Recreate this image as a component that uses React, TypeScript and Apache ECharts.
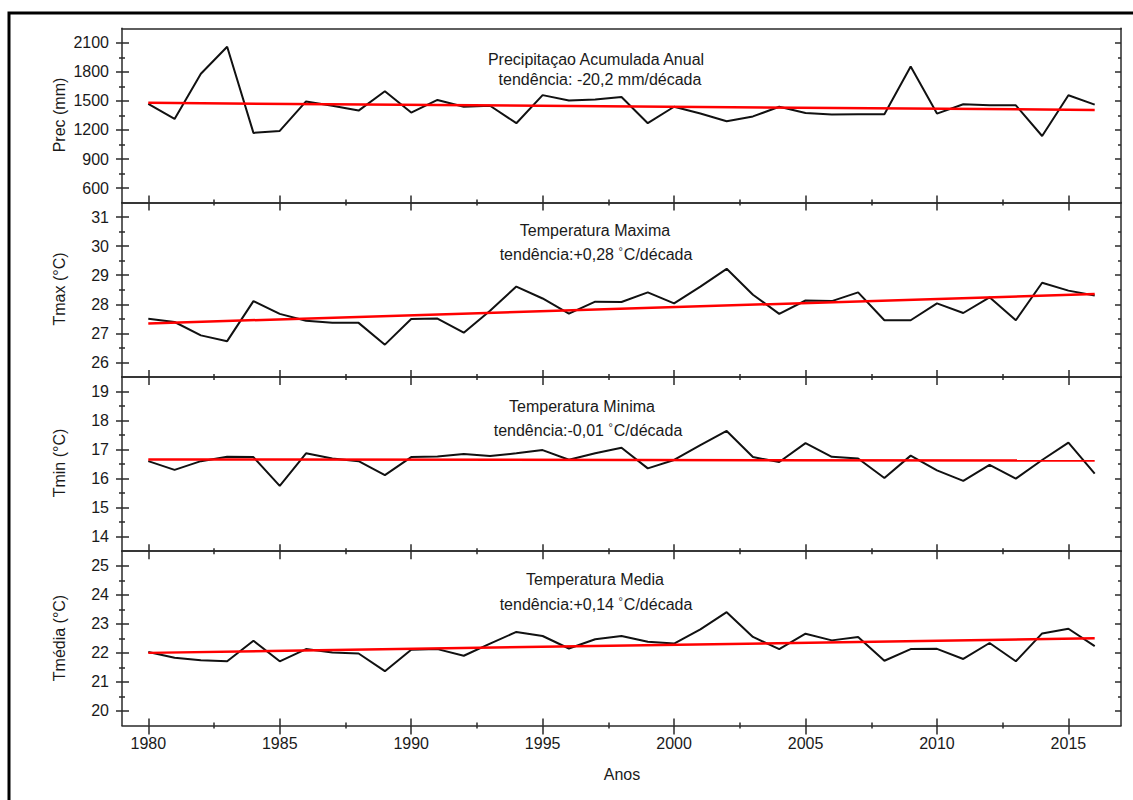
import React, { useEffect, useRef } from "react";
import * as echarts from "echarts";

// ---------------- DATA ----------------
const years = [
  1980, 1981, 1982, 1983, 1984, 1985, 1986, 1987, 1988, 1989,
  1990, 1991, 1992, 1993, 1994, 1995, 1996, 1997, 1998, 1999,
  2000, 2001, 2002, 2003, 2004, 2005, 2006, 2007, 2008, 2009,
  2010, 2011, 2012, 2013, 2014, 2015, 2016,
];

const precValues = [
  1470, 1314, 1780, 2060, 1170, 1190, 1495, 1450, 1400, 1600,
  1380, 1510, 1440, 1450, 1270, 1560, 1505, 1515, 1540, 1270,
  1440, 1370, 1290, 1340, 1440, 1376, 1360, 1362, 1362, 1855,
  1369, 1466, 1455, 1455, 1138, 1559, 1462,
];
const tmaxValues = [
  27.5, 27.39, 26.93, 26.73, 28.11, 27.67, 27.43, 27.36, 27.36, 26.61,
  27.49, 27.51, 27.02, 27.78, 28.61, 28.2, 27.68, 28.09, 28.08, 28.41,
  28.03, 28.61, 29.22, 28.33, 27.67, 28.13, 28.11, 28.41, 27.45, 27.45,
  28.03, 27.7, 28.24, 27.45, 28.74, 28.47, 28.3,
];
const tminValues = [
  16.6, 16.3, 16.6, 16.75, 16.74, 15.75, 16.87, 16.69, 16.6, 16.12,
  16.74, 16.76, 16.85, 16.78, 16.87, 16.98, 16.65, 16.87, 17.06, 16.35,
  16.64, 17.15, 17.64, 16.74, 16.57, 17.22, 16.75, 16.69, 16.02, 16.79,
  16.28, 15.92, 16.47, 16.0, 16.64, 17.24, 16.17,
];
const tmediaValues = [
  22.03, 21.83, 21.75, 21.71, 22.42, 21.71, 22.13, 22.01, 21.98, 21.37,
  22.11, 22.13, 21.9, 22.32, 22.72, 22.58, 22.15, 22.47, 22.58, 22.38,
  22.32, 22.81, 23.4, 22.55, 22.13, 22.66, 22.43, 22.55, 21.73, 22.13,
  22.14, 21.79, 22.34, 21.71, 22.67, 22.83, 22.23,
];

// trend line values at first and last year
const precTrend = [1480, 1407];
const tmaxTrend = [27.34, 28.35];
const tminTrend = [16.66, 16.62];
const tmediaTrend = [22.0, 22.5];

const xMajorTicks = [1980, 1985, 1990, 1995, 2000, 2005, 2010, 2015];
const xMinorTicks = [1982.5, 1987.5, 1992.5, 1997.5, 2002.5, 2007.5, 2012.5];

const precMajorTicks = [600, 900, 1200, 1500, 1800, 2100];
const precMinorTicks = [750, 1050, 1350, 1650, 1950];
const tmaxMajorTicks = [26, 27, 28, 29, 30, 31];
const tmaxMinorTicks = [26.5, 27.5, 28.5, 29.5, 30.5];
const tminMajorTicks = [14, 15, 16, 17, 18, 19];
const tminMinorTicks = [14.5, 15.5, 16.5, 17.5, 18.5];
const tmediaMajorTicks = [20, 21, 22, 23, 24, 25];
const tmediaMinorTicks = [20.5, 21.5, 22.5, 23.5, 24.5];

const axisNames = ["Prec (mm)", "Tmax (°C)", "Tmin (°C)", "Tmédia (°C)"];
const titleMain = [
  "Precipitaçao Acumulada Anual",
  "Temperatura Maxima",
  "Temperatura Minima",
  "Temperatura Media",
];
// trend text split around the degree sign: [before, unit-after-degree or null]
const trendTexts: [string, string | null][] = [
  ["tendência: -20,2 mm/década", null],
  ["tendência:+0,28 ", "C/década"],
  ["tendência:-0,01 ", "C/década"],
  ["tendência:+0,14 ", "C/década"],
];
const xAxisName = "Anos";

// ---------------- LAYOUT / STYLE ----------------
const X_MIN = 1979;
const X_MAX = 2017;
const LEFT = 122;
const PLOT_W = 999;
const TOP = 28.3;
const PANEL_H = 174.3;
const FONT = '"Liberation Sans", Arial, Helvetica, sans-serif';
const AXIS_COLOR = "#2a2a2a";
const TEXT_COLOR = "#1a1a1a";

const panels = [
  { values: precValues, trend: precTrend, min: 450, max: 2250, majors: precMajorTicks, minors: precMinorTicks },
  { values: tmaxValues, trend: tmaxTrend, min: 25.5, max: 31.5, majors: tmaxMajorTicks, minors: tmaxMinorTicks },
  { values: tminValues, trend: tminTrend, min: 13.5, max: 19.5, majors: tminMajorTicks, minors: tminMinorTicks },
  { values: tmediaValues, trend: tmediaTrend, min: 19.5, max: 25.5, majors: tmediaMajorTicks, minors: tmediaMinorTicks },
];

const titlePos = [
  [[596, 59], [600, 79]],
  [[595, 230], [596, 254]],
  [[582, 406], [588, 430]],
  [[595, 579], [596, 604]],
];
const namePos = [
  [59, 115],
  [59, 289],
  [59, 463],
  [59, 638],
];

const lineStyle = { color: AXIS_COLOR, width: 1.5 };

function tickAxis(gridIndex: number, position: string, min: number, max: number, values: number[], length: number, inside: boolean, showLine = false) {
  return {
    type: "value",
    gridIndex,
    position,
    min,
    max,
    axisLine: { show: showLine, onZero: false, lineStyle },
    axisTick: { show: true, inside, length, customValues: values, lineStyle },
    axisLabel: { show: false },
    splitLine: { show: false },
  };
}

function buildOption() {
  const grids: any[] = [];
  const xAxes: any[] = [];
  const yAxes: any[] = [];
  const series: any[] = [];

  panels.forEach((p, i) => {
    const isLast = i === panels.length - 1;
    grids.push({ left: LEFT, top: TOP + i * PANEL_H, width: PLOT_W, height: PANEL_H, containLabel: false });

    const mainX = xAxes.length;
    xAxes.push({
      type: "value",
      gridIndex: i,
      position: "bottom",
      min: X_MIN,
      max: X_MAX,
      axisLine: { show: true, onZero: false, lineStyle },
      axisTick: { show: isLast, inside: false, length: 9, customValues: xMajorTicks, lineStyle },
      axisLabel: {
        show: isLast,
        customValues: xMajorTicks,
        margin: 10,
        fontSize: 16,
        fontFamily: FONT,
        color: TEXT_COLOR,
        formatter: (v: number) => String(v),
      },
      splitLine: { show: false },
    });
    if (isLast) {
      xAxes.push(tickAxis(i, "bottom", X_MIN, X_MAX, xMajorTicks, 7, true));
      xAxes.push(tickAxis(i, "bottom", X_MIN, X_MAX, xMinorTicks, 3, false));
      xAxes.push(tickAxis(i, "bottom", X_MIN, X_MAX, xMinorTicks, 3, true));
    }
    if (i > 0) {
      xAxes.push(tickAxis(i, "top", X_MIN, X_MAX, xMajorTicks, 7, false, true));
      xAxes.push(tickAxis(i, "top", X_MIN, X_MAX, xMajorTicks, 8, true));
      xAxes.push(tickAxis(i, "top", X_MIN, X_MAX, xMinorTicks, 3, false));
      xAxes.push(tickAxis(i, "top", X_MIN, X_MAX, xMinorTicks, 3, true));
    } else {
      xAxes.push({
        type: "value",
        gridIndex: i,
        position: "top",
        min: X_MIN,
        max: X_MAX,
        axisLine: { show: true, onZero: false, lineStyle },
        axisTick: { show: false },
        axisLabel: { show: false },
        splitLine: { show: false },
      });
    }

    const mainY = yAxes.length;
    yAxes.push({
      type: "value",
      gridIndex: i,
      position: "left",
      min: p.min,
      max: p.max,
      axisLine: { show: true, onZero: false, lineStyle },
      axisTick: { show: true, inside: false, length: 6, customValues: p.majors, lineStyle },
      axisLabel: {
        show: true,
        customValues: p.majors,
        margin: 13,
        fontSize: 16,
        fontFamily: FONT,
        color: TEXT_COLOR,
        formatter: (v: number) => String(v),
      },
      splitLine: { show: false },
    });
    yAxes.push(tickAxis(i, "left", p.min, p.max, p.majors, 7, true));
    yAxes.push(tickAxis(i, "left", p.min, p.max, p.minors, 3, false));
    yAxes.push(tickAxis(i, "left", p.min, p.max, p.minors, 3, true));
    yAxes.push(tickAxis(i, "right", p.min, p.max, p.majors, 6, true, true));
    yAxes.push(tickAxis(i, "right", p.min, p.max, p.minors, 3, true));

    series.push({
      type: "line",
      xAxisIndex: mainX,
      yAxisIndex: mainY,
      data: years.map((y, k) => [y, p.values[k]]),
      symbol: "none",
      showSymbol: false,
      lineStyle: { color: "#111111", width: 2 },
      silent: true,
      z: 3,
    });
    series.push({
      type: "line",
      xAxisIndex: mainX,
      yAxisIndex: mainY,
      data: [
        [years[0], p.trend[0]],
        [years[years.length - 1], p.trend[1]],
      ],
      symbol: "none",
      showSymbol: false,
      lineStyle: { color: "#ff0000", width: 2.5 },
      silent: true,
      z: 4,
    });
  });

  const baseText = { fontSize: 16, fontFamily: FONT, fill: TEXT_COLOR, align: "center", verticalAlign: "middle" };
  const graphic: any[] = [
    {
      type: "rect",
      shape: { x: 9, y: 13, width: 1400, height: 1000 },
      style: { fill: "none", stroke: "#000000", lineWidth: 3 },
      silent: true,
    },
  ];
  axisNames.forEach((n, i) => {
    graphic.push({
      type: "text",
      x: namePos[i][0],
      y: namePos[i][1],
      rotation: Math.PI / 2,
      style: { ...baseText, text: n },
      silent: true,
    });
  });
  titleMain.forEach((t, i) => {
    graphic.push({
      type: "text",
      x: titlePos[i][0][0],
      y: titlePos[i][0][1],
      style: { ...baseText, text: t },
      silent: true,
    });
    const [before, after] = trendTexts[i];
    const text = after === null ? before : `{a|${before}}{s|°}{a|${after}}`;
    graphic.push({
      type: "text",
      x: titlePos[i][1][0],
      y: titlePos[i][1][1],
      style: {
        ...baseText,
        text,
        rich: {
          a: { fontSize: 16, fontFamily: FONT, fill: TEXT_COLOR, lineHeight: 18, verticalAlign: "middle" },
          s: { fontSize: 11, fontFamily: FONT, fill: TEXT_COLOR, lineHeight: 18, verticalAlign: "top", padding: [0, 1, 0, 0] },
        },
      },
      silent: true,
    });
  });
  graphic.push({
    type: "text",
    x: 622,
    y: 774,
    style: { ...baseText, text: xAxisName },
    silent: true,
  });

  return {
    animation: false,
    backgroundColor: "#ffffff",
    grid: grids,
    xAxis: xAxes,
    yAxis: yAxes,
    series,
    graphic,
  };
}

export default function App() {
  const ref = useRef<HTMLDivElement>(null);
  useEffect(() => {
    if (!ref.current) return;
    const chart = echarts.init(ref.current, null, { renderer: "svg" });
    chart.setOption(buildOption() as any);
    return () => chart.dispose();
  }, []);
  return (
    <div
      ref={ref}
      style={{ position: "absolute", left: 0, top: 0, width: 1133, height: 800 }}
    />
  );
}
